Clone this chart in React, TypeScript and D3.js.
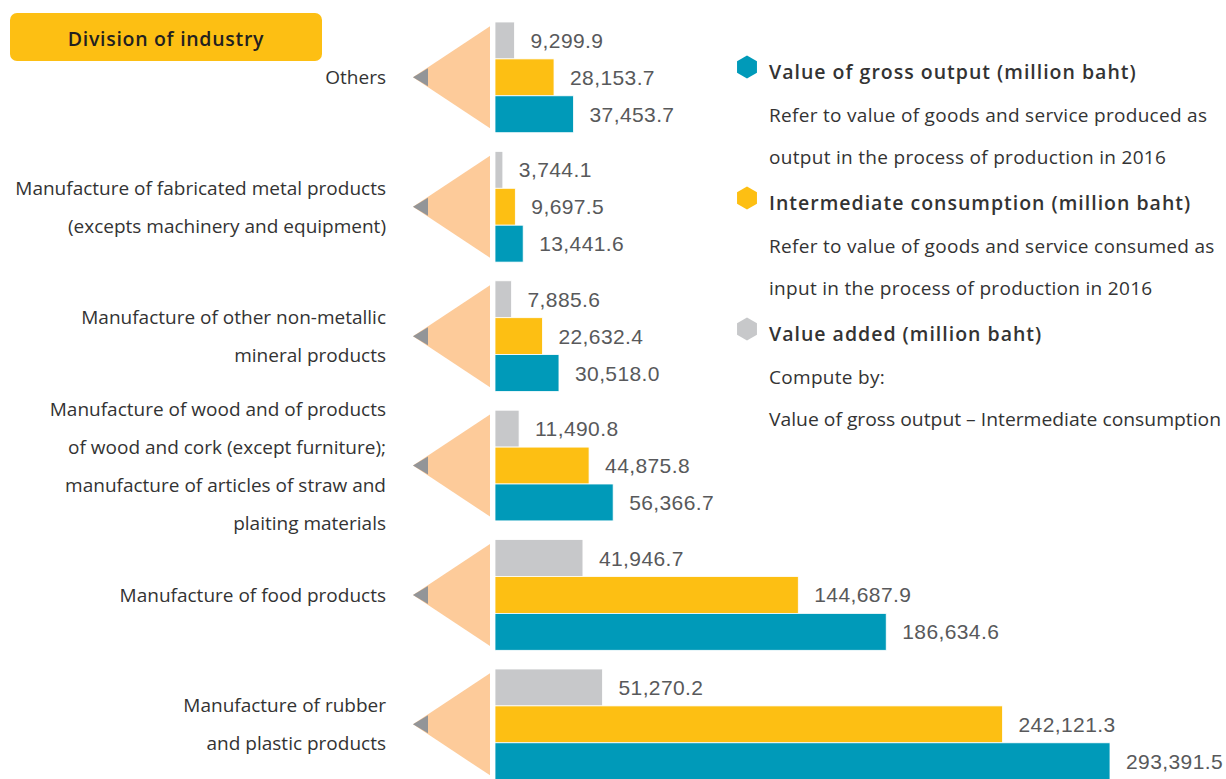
import React, { useEffect, useRef } from "react";
import * as d3 from "d3";

const categories = [
  "Others",
  "Fabricated metal",
  "Non-metallic mineral",
  "Wood",
  "Food",
  "Rubber and plastic",
];

const categoryLines = [
  ["Others"],
  ["Manufacture of fabricated metal products", "(excepts machinery and equipment)"],
  ["Manufacture of other non-metallic", "mineral products"],
  [
    "Manufacture of wood and of products",
    "of wood and cork (except furniture);",
    "manufacture of articles of straw and",
    "plaiting materials",
  ],
  ["Manufacture of food products"],
  ["Manufacture of rubber", "and plastic products"],
];

const valueAdded = [9299.9, 3744.1, 7885.6, 11490.8, 41946.7, 51270.2];
const intermediate = [28153.7, 9697.5, 22632.4, 44875.8, 144687.9, 242121.3];
const grossOutput = [37453.7, 13441.6, 30518.0, 56366.7, 186634.6, 293391.5];

const seriesKeys = ["added", "intermediate", "gross"];
const seriesColors = ["#C7C8CA", "#FDBF13", "#009AB9"];

const legendTitles = [
  "Value of gross output (million baht)",
  "Intermediate consumption (million baht)",
  "Value added (million baht)",
];
const legendColors = ["#009AB9", "#FDBF13", "#C7C8CA"];
const legendNotes = [
  ["Refer to value of goods and service produced as", "output in the process of production in 2016"],
  ["Refer to value of goods and service consumed as", "input in the process of production in 2016"],
  ["Compute by:", "Value of gross output \u2013 Intermediate consumption"],
];

const W = 1226;
const H = 779;

export default function App() {
  const ref = useRef<SVGSVGElement>(null);

  useEffect(() => {
    const svg = d3.select(ref.current);
    svg.selectAll("*").remove();

    const x = d3.scaleLinear().domain([0, 293391.5]).range([495, 1110]);
    const y = d3
      .scaleBand()
      .domain(categories)
      .range([22, 779.7])
      .paddingInner(0.1445)
      .paddingOuter(0);
    const sub = d3.scaleBand().domain(seriesKeys).range([0, y.bandwidth()]);

    const labelFont = "'Open Sans', sans-serif";

    // header
    svg
      .append("rect")
      .attr("x", 10)
      .attr("y", 13)
      .attr("width", 312)
      .attr("height", 48)
      .attr("rx", 7)
      .attr("fill", "#FDBF13");
    svg
      .append("text")
      .attr("x", 166)
      .attr("y", 38)
      .attr("text-anchor", "middle")
      .attr("dominant-baseline", "central")
      .attr("font-family", labelFont)
      .attr("font-weight", 600)
      .attr("font-size", 19.5)
      .attr("letter-spacing", 0.7)
      .attr("fill", "#231F20")
      .text("Division of industry");

    const groups = svg
      .selectAll("g.cat")
      .data(categories)
      .join("g")
      .attr("class", "cat")
      .attr("transform", (d) => `translate(0,${y(d)})`);

    const bh = y.bandwidth();

    // peach pointer triangle
    groups
      .append("path")
      .attr("d", `M490,${bh / 2 - 51} L413,${bh / 2} L490,${bh / 2 + 51} Z`)
      .attr("fill", "#FDCB9A");
    groups
      .append("path")
      .attr("d", `M428,${bh / 2 - 9} L413,${bh / 2} L428,${bh / 2 + 9} Z`)
      .attr("fill", "#939598");

    // category labels
    groups.each(function (_, i) {
      const lines = categoryLines[i];
      const g = d3.select(this);
      const t = g
        .append("text")
        .attr("text-anchor", "end")
        .attr("font-family", labelFont)
        .attr("font-size", 19)
        .attr("fill", "#333333");
      lines.forEach((ln, j) => {
        t.append("tspan")
          .attr("x", 386)
          .attr("y", bh / 2 + (j - (lines.length - 1) / 2) * 38)
          .attr("dominant-baseline", "central")
          .text(ln);
      });
    });

    const seriesValues = [valueAdded, intermediate, grossOutput];
    const fmt = d3.format(",.1f");

    seriesKeys.forEach((k, si) => {
      groups
        .append("rect")
        .attr("x", x(0))
        .attr("y", sub(k)!)
        .attr("width", (_, i) => x(seriesValues[si][i]) - x(0))
        .attr("height", sub.bandwidth())
        .attr("fill", seriesColors[si])
        .attr("stroke", "#ffffff")
        .attr("stroke-width", 0.8);
      groups
        .append("text")
        .attr("x", (_, i) => x(seriesValues[si][i]) + 16)
        .attr("y", sub(k)! + sub.bandwidth() / 2)
        .attr("dominant-baseline", "central")
        .attr("font-family", "'Liberation Sans', Arial, sans-serif")
        .attr("font-size", 21)
        .attr("letter-spacing", 0.4)
        .attr("fill", "#58595B")
        .text((_, i) => fmt(seriesValues[si][i]));
    });

    // legend
    const legendY = [70, 201, 332];
    legendTitles.forEach((title, i) => {
      const cy = legendY[i];
      const hex = d3.range(6).map((j) => {
        const a = (Math.PI / 3) * j - Math.PI / 2;
        return [747 + 11.5 * Math.cos(a), cy - 3 + 11.5 * Math.sin(a)];
      });
      svg
        .append("path")
        .attr("d", d3.line()(hex as [number, number][]) + "Z")
        .attr("fill", legendColors[i]);
      svg
        .append("text")
        .attr("x", 769)
        .attr("y", cy + 1)
        .attr("dominant-baseline", "central")
        .attr("font-family", labelFont)
        .attr("font-weight", 600)
        .attr("font-size", 19.5)
        .attr("letter-spacing", 1)
        .attr("fill", "#333333")
        .text(title);
      legendNotes[i].forEach((note, j) => {
        const t = svg
          .append("text")
          .attr("x", 769)
          .attr("y", cy + 45 + j * 42)
          .attr("dominant-baseline", "central")
          .attr("font-family", labelFont)
          .attr("font-size", 19)
          .attr("letter-spacing", 0.3)
          .attr("fill", "#333333")
          .text(note);
        // keep the note inside the picture
        const node = t.node() as SVGTextElement;
        if (node.getComputedTextLength() > 452) {
          t.attr("letter-spacing", 0).attr("textLength", 452).attr("lengthAdjust", "spacingAndGlyphs");
        }
      });
    });
  }, []);

  return (
    <svg
      ref={ref}
      width={W}
      height={H}
      style={{ position: "absolute", left: 0, top: 0, background: "#fff" }}
    />
  );
}
